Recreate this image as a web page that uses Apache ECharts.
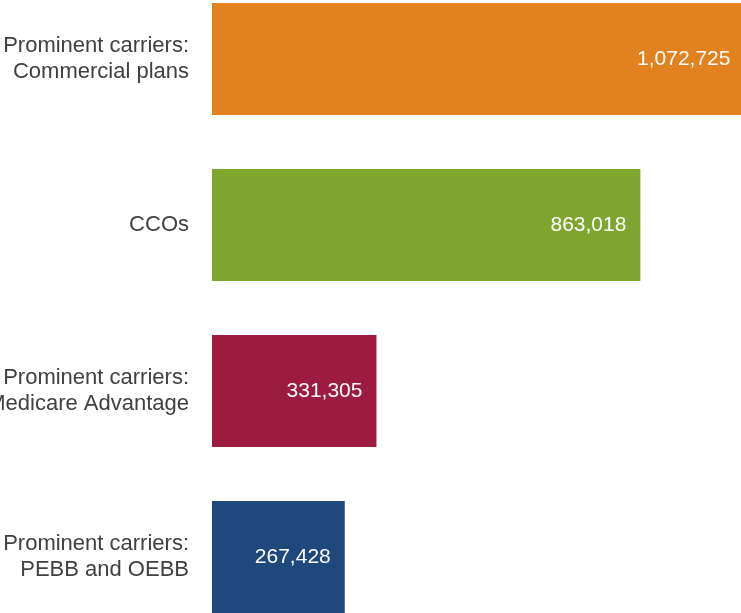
<!DOCTYPE html>
<html>
<head>
<meta charset="utf-8">
<script src="https://cdn.jsdelivr.net/npm/echarts@6/dist/echarts.min.js"></script>
<style>
	html, body { margin: 0; padding: 0; background: #fff; }
	#chart { width: 741px; height: 613px; }
</style>
</head>
<body>
<div id="chart"></div>
<script>
	// categories, top to bottom
	var categories = [
		'Prominent carriers:\nCommercial plans',
		'CCOs',
		'Prominent carriers:\nMedicare Advantage',
		'Prominent carriers:\nPEBB and OEBB'
	];
	var members = [1072725, 863018, 331305, 267428];
	var barColors = ['#E1821E', '#7FA730', '#9E1B40', '#1F497D'];

	var font = "'Liberation Sans', Arial, sans-serif";

	var chart = echarts.init(document.getElementById('chart'));
	chart.setOption({
		animation: false,
		grid: {
			left: 212, right: -17, top: -24, bottom: -27,
			containLabel: false,
			outerBoundsMode: 'none'
		},
		xAxis: {
			type: 'value',
			min: 0,
			max: 1100000,
			show: false
		},
		yAxis: {
			type: 'category',
			inverse: true,
			data: categories,
			axisLine: { show: false },
			axisTick: { show: false },
			axisLabel: {
				margin: 23,
				color: '#404040',
				fontFamily: font,
				fontSize: 22,
				lineHeight: 26,
				align: 'right'
			}
		},
		series: [{
			type: 'bar',
			barCategoryGap: '32.5%',
			data: members.map(function (v, i) {
				return { value: v, itemStyle: { color: barColors[i] } };
			}),
			label: {
				show: true,
				position: 'insideRight',
				distance: 14,
				color: '#fff',
				fontFamily: font,
				fontSize: 21,
				formatter: function (p) { return p.value.toLocaleString('en-US'); }
			}
		}]
	});
</script>
</body>
</html>
